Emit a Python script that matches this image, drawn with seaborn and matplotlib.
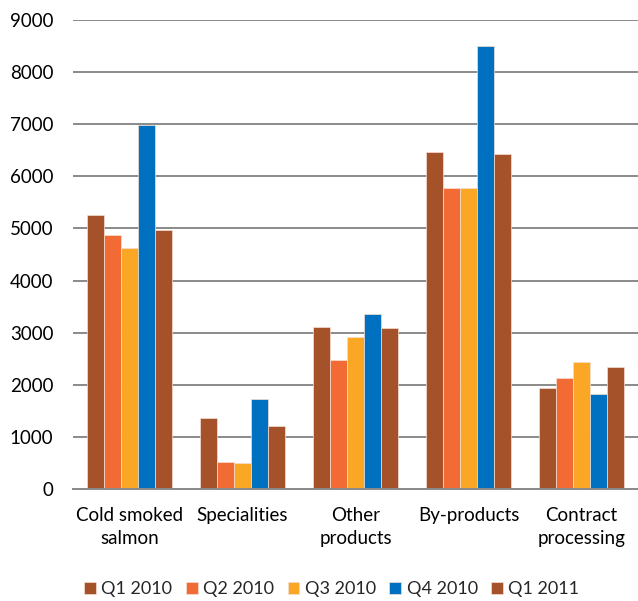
import seaborn as sns
import matplotlib.pyplot as plt
import pandas as pd
import numpy as np

sns.set_style("white")
plt.rcParams['font.family'] = ['Lato', 'DejaVu Sans']

# data
categories = ["Cold smoked\nsalmon", "Specialities", "Other\nproducts", "By-products", "Contract\nprocessing"]
periods = ["Q1 2010", "Q2 2010", "Q3 2010", "Q4 2010", "Q1 2011"]
q1_2010 = [5250, 1365, 3100, 6475, 1930]
q2_2010 = [4870, 525, 2470, 5775, 2130]
q3_2010 = [4620, 490, 2910, 5775, 2435]
q4_2010 = [6980, 1720, 3360, 8500, 1825]
q1_2011 = [4970, 1210, 3090, 6420, 2350]
colors = ["#A5522A", "#F26B35", "#FAA726", "#0070C0", "#A5522A"]

series = [q1_2010, q2_2010, q3_2010, q4_2010, q1_2011]
df = pd.DataFrame({
    "Category": np.tile(categories, len(periods)),
    "Period": np.repeat(periods, len(categories)),
    "Value": np.concatenate(series),
})

fig = plt.figure(figsize=(6.38, 6.01), dpi=100)
ax = fig.add_axes([73 / 638, 1 - 489 / 601, 565 / 638, 469 / 601])

sns.barplot(data=df, x="Category", y="Value", hue="Period", order=categories,
            hue_order=periods, palette=dict(zip(periods, colors)),
            width=0.76, edgecolor="#f4e0d6", linewidth=0.5, saturation=1,
            ax=ax, legend=True)

ax.set_ylim(0, 9000)
ax.set_xlim(-0.5, 4.5)
ax.set_yticks(range(0, 9001, 1000))
ax.yaxis.grid(True, color="#8a8a8a", linewidth=1.4)
ax.set_axisbelow(True)
ax.set_xlabel("")
ax.set_ylabel("")

for s in ["left", "right", "top"]:
    ax.spines[s].set_visible(False)
ax.spines["bottom"].set_color("#8a8a8a")
ax.spines["bottom"].set_linewidth(1.4)

ax.tick_params(axis="y", length=0, pad=14, labelsize=13.5, labelcolor="black")
ax.tick_params(axis="x", which="major", length=0, pad=13, labelsize=13.5, labelcolor="black")
for lbl in ax.get_xticklabels():
    lbl.set_linespacing(1.4)
ax.set_xticks(np.arange(-0.5, 5, 1), minor=True)
ax.tick_params(axis="x", which="minor", length=6, width=1.4, color="#8a8a8a")

handles, labels = ax.get_legend_handles_labels()
ax.get_legend().remove()
fig.legend(handles, labels, loc="center", bbox_to_anchor=(0.52, 0.02), ncol=5,
           frameon=False, fontsize=13, handlelength=0.65, handleheight=0.65,
           handletextpad=0.3, columnspacing=0.75)

plt.savefig("out.png", dpi=100)
plt.close(fig)
